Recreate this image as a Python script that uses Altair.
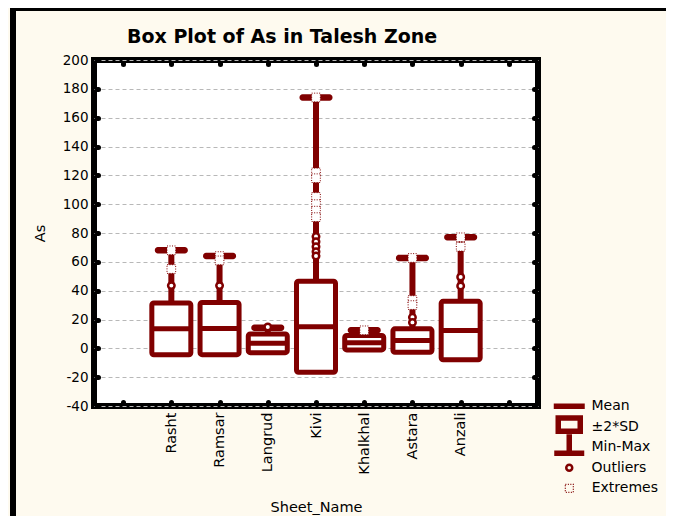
import altair as alt
import pandas as pd

# ---------------- data ----------------
sheets = ["Rasht", "Ramsar", "Langrud", "Kivi", "Khalkhal", "Astara", "Anzali"]
positions = [1, 2, 3, 4, 5, 6, 7]
means = [13.5, 13.7, 3.5, 15.0, 3.9, 5.4, 12.3]
box_low = [-4.5, -4.4, -3.0, -16.6, -1.1, -2.7, -8.0]
box_high = [31.5, 31.8, 10.0, 46.5, 8.9, 13.5, 32.6]
maxima = [68.0, 64.0, 14.2, 174.0, 12.5, 62.7, 77.0]
outliers = {
    "Rasht": [43.5],
    "Ramsar": [43.5],
    "Langrud": [14.8],
    "Kivi": [77.5, 74.0, 70.5, 67.0, 64.0],
    "Khalkhal": [],
    "Astara": [21.5, 18.0],
    "Anzali": [49.5, 43.3],
}
extremes = {
    "Rasht": [68.0, 55.0],
    "Ramsar": [64.0, 61.0],
    "Langrud": [],
    "Kivi": [174.0, 122.0, 118.0, 105.0, 100.0, 95.5, 91.0],
    "Khalkhal": [12.5],
    "Astara": [62.7, 33.5, 30.0],
    "Anzali": [77.0, 70.5],
}
y_ticks = list(range(-40, 201, 20))
x_slots = list(range(0, 9))
slot_labels = [""] + sheets + [""]
chart_title = "Box Plot of As in Talesh Zone"
legend_items = ["Mean", "±2*SD", "Min-Max", "Outliers", "Extremes"]
legend_paths = [
    "M-1.55,0H1.55",
    "M-1.1,-0.88H1.1V0.45H-1.1Z",
    "M0,-1.3V0.6M-1.5,0.6H1.5",
    "M0.3,0A0.3,0.3,0,1,1,-0.3,0A0.3,0.3,0,1,1,0.3,0Z",
    "M-0.4,-0.4H0.4V0.4H-0.4Z",
]

# ---------------- tables ----------------
box_df = pd.DataFrame({"sheet": sheets, "pos": positions, "mean": means,
                       "low": box_low, "high": box_high, "max": maxima})
out_df = pd.DataFrame([{"sheet": s, "pos": p, "v": v}
                       for s, p in zip(sheets, positions) for v in outliers[s]])
ext_df = pd.DataFrame([{"sheet": s, "pos": p, "v": v}
                       for s, p in zip(sheets, positions) for v in extremes[s]])
dummy = pd.DataFrame({"a": [0]})

DARK = "#800000"
FONT = "DejaVu Sans"
W, H = 444, 346

xscale = alt.Scale(domain=[-0.5, 8.5], nice=False, zero=False)
yscale = alt.Scale(domain=[-40, 200], nice=False, zero=False)

label_expr = "[" + ",".join("'" + s + "'" for s in slot_labels) + "][datum.value]"

axis_bottom = alt.Axis(orient="bottom", values=x_slots, labelExpr=label_expr, labelAngle=270,
                       offset=-4, tickSize=1, tickWidth=5, tickCap="round", tickColor="black",
                       domain=False, grid=False, labelPadding=9, labelFontSize=14.5,
                       labelOverlap=False, labelFlush=False,
                       title="Sheet_Name", titleFontSize=14.5, titleFontWeight="normal",
                       titleY=98, titleBaseline="top")
axis_top = alt.Axis(orient="top", values=x_slots, offset=-4, tickSize=1, tickWidth=5,
                    tickCap="round", tickColor="black", domain=False, grid=False,
                    labels=False, title=None)
axis_left = alt.Axis(orient="left", values=y_ticks, labelExpr="'' + datum.value",
                     offset=-4, tickSize=1, tickWidth=5,
                     tickCap="round", tickColor="black", domain=False, grid=True,
                     gridDash=[4, 3], gridColor="#b8b8b8", gridWidth=1,
                     labelPadding=9, labelFontSize=13.5,
                     title="As", titleFontSize=14.5, titleFontWeight="normal",
                     titleX=-58, titleY=H / 2, titleBaseline="middle", titleAngle=270)
axis_right = alt.Axis(orient="right", values=y_ticks, offset=-4, tickSize=1, tickWidth=5,
                      tickCap="round", tickColor="black", domain=False, grid=False,
                      labels=False, title=None)

base = alt.Chart(box_df)

whisker = base.mark_rule(color=DARK, strokeWidth=6).encode(
    x=alt.X("pos:Q", scale=xscale, axis=None),
    y=alt.Y("high:Q", scale=yscale, axis=None),
    y2="max:Q",
)

box = base.mark_bar(size=39, fill="white", stroke=DARK, strokeWidth=5, cornerRadius=2).encode(
    x=alt.X("pos:Q", scale=xscale, axis=axis_bottom),
    y=alt.Y("low:Q", scale=yscale, axis=axis_left),
    y2="high:Q",
)

mean_line = base.mark_tick(orient="horizontal", size=40, thickness=5, color=DARK, opacity=1).encode(
    x=alt.X("pos:Q", scale=xscale, axis=None),
    y=alt.Y("mean:Q", scale=yscale, axis=None),
)

cap = base.mark_tick(orient="horizontal", size=33, thickness=6.5, cornerRadius=3,
                     color=DARK, opacity=1).encode(
    x=alt.X("pos:Q", scale=xscale, axis=axis_top),
    y=alt.Y("max:Q", scale=yscale, axis=axis_right),
)

out_pts = alt.Chart(out_df).mark_point(shape="circle", size=42, fill="white", stroke=DARK,
                                       strokeWidth=2.5, opacity=1, filled=False).encode(
    x=alt.X("pos:Q", scale=xscale, axis=None),
    y=alt.Y("v:Q", scale=yscale, axis=None),
)

ext_pts = alt.Chart(ext_df).mark_square(size=75, fill="white", stroke=DARK, strokeWidth=1,
                                        strokeDash=[1, 1.5], opacity=1, filled=True).encode(
    x=alt.X("pos:Q", scale=xscale, axis=None),
    y=alt.Y("v:Q", scale=yscale, axis=None),
)

frame_left = alt.Chart(dummy).mark_rule(color="black", strokeWidth=6).encode(
    x=alt.value(-81), y=alt.value(-52), y2=alt.value(H + 112))
frame_top = alt.Chart(dummy).mark_rule(color="black", strokeWidth=4).encode(
    x=alt.value(-84), x2=alt.value(W + 130), y=alt.value(-51))

title_text = alt.Chart(dummy).mark_text(
    text=chart_title, font=FONT, fontSize=19, fontWeight="bold", color="black",
    align="left", baseline="alphabetic",
).encode(x=alt.value(33), y=alt.value(-17))

# legend: one entry per layer so every row can be styled and placed on its own
row_centers = [346, 366.5, 387, 407.5, 428]
stroke_ws = [5.5, 5.5, 5.5, 2.5, 1.3]
dashes = [None, None, None, None, [1, 1.5]]
SYM_X, LAB_X = 475, 497

legend_layers = []
for item, path, yc, sw, ds in zip(legend_items, legend_paths, row_centers, stroke_ws, dashes):
    s = 20 + sw
    mk = dict(filled=False, color=DARK, stroke=DARK, strokeWidth=sw, opacity=1)
    lg = dict(orient="none", legendX=SYM_X - s / 2, legendY=yc - s / 2, title=None,
              symbolSize=400, padding=0, labelOffset=LAB_X - SYM_X - s / 2,
              labelFontSize=14, labelFont=FONT, labelColor="black", labelLimit=200,
              symbolStrokeColor=DARK, symbolStrokeWidth=sw, symbolOpacity=1)
    if ds:
        mk["strokeDash"] = ds
        lg["symbolDash"] = ds
    legend_layers.append(
        alt.Chart(pd.DataFrame({"item": [item]})).mark_point(**mk).encode(
            x=alt.value(-2000), y=alt.value(-2000),
            shape=alt.Shape("item:N", scale=alt.Scale(domain=[item], range=[path]),
                            legend=alt.Legend(**lg)),
        )
    )

chart = alt.layer(
    frame_left, frame_top, title_text, whisker, box, mean_line, cap, out_pts, ext_pts,
    *legend_layers
).resolve_axis(x="independent", y="independent").resolve_scale(
    shape="independent"
).resolve_legend(shape="independent").properties(
    width=W, height=H,
    autosize=alt.AutoSizeParams(type="none"),
    padding={"left": 86, "top": 52, "right": 128, "bottom": 110},
).configure(
    background="#FEFAEF",
).configure_view(
    fill="white", stroke="black", strokeWidth=6,
).configure_axis(
    labelFont=FONT, titleFont=FONT, labelColor="black", titleColor="black",
)

chart.save("out.html", embed_options={"renderer": "svg", "actions": False})
